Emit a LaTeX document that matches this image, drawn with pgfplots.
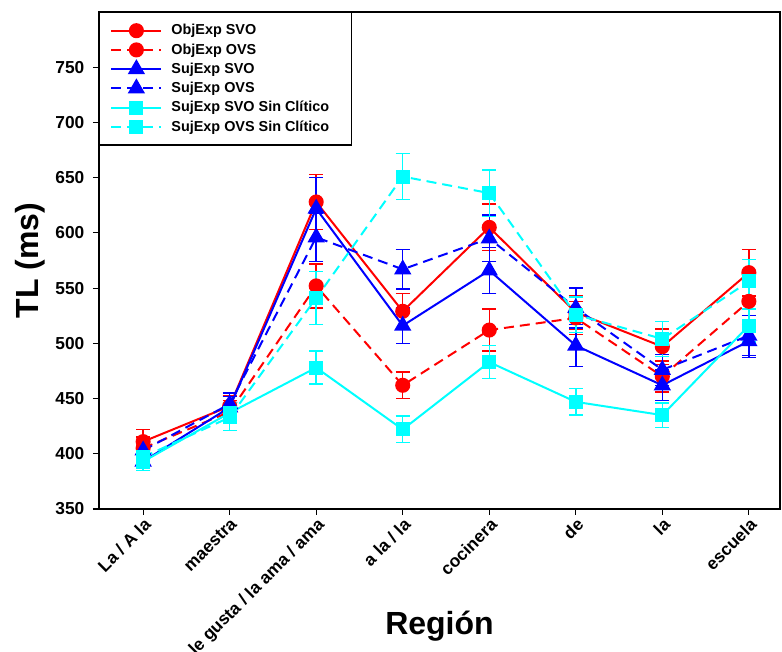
\documentclass[border=0pt]{standalone}
\usepackage{pgfplots}
\pgfplotsset{compat=1.18}
\usepackage{fontspec}
\setmainfont{Liberation Sans}
\definecolor{cy}{RGB}{0,255,255}
\definecolor{rd}{RGB}{255,0,0}
\definecolor{bl}{RGB}{0,0,255}
\pgfplotsset{
  errs/.style={error bars/.cd, y dir=both, y explicit,
    error bar style={line width=1.1pt, solid},
    error mark options={rotate=90, mark size=5.25pt, line width=1.1pt, solid}},
  dsh/.style={dash pattern=on 7.5pt off 4.5pt},
}
\begin{document}
\begin{tikzpicture}
\begin{axis}[
  scale only axis, width=510.75pt, height=372.75pt,
  xmin=0.49, xmax=8.36, ymin=350, ymax=800,
  xtick={1,...,8},
  xticklabels={La / A la, maestra, le gusta / la ama / ama, a la / la, cocinera, de, la, escuela},
  ytick={350,400,...,750},
  tick align=outside, tick pos=left, major tick length=4.5pt,
  axis line style={line width=1.1pt},
  every tick/.style={black, line width=0.9pt},
  /pgf/number format/assume math mode=true,
  ticklabel style={font=\fontsize{13}{15}\selectfont\bfseries},
  y tick label style={xshift=-3pt},
  x tick label style={rotate=45, anchor=north east, inner sep=1pt},
  xlabel={Región}, ylabel={TL (ms)},
  label style={font=\fontsize{24}{28}\selectfont\bfseries},
  xlabel style={at={(axis description cs:0.5,-0.2535)}, anchor=base},
  ylabel style={at={(axis description cs:-0.0881,0.5)}, anchor=base},
  legend image code/.code={\draw[mark repeat=2, mark phase=2, #1] plot coordinates {(0pt,0pt) (18.75pt,0pt) (37.5pt,0pt)};},
  legend style={at={(axis description cs:0,1)}, anchor=north west, draw=black, line width=1.1pt,
    font=\fontsize{10.8}{12.8}\selectfont\bfseries, inner xsep=8pt, inner ysep=6.8pt,
    row sep=1.1pt, column sep=4.8pt},
  legend cell align=left,
]
\addplot[color=rd, line width=1.5pt, solid, mark=*, mark size=4.9pt, mark options={solid}, errs] table[x=x, y=y, y error=e] {
x y e
1 411 11
2 443 10
3 628 25
4 529 16
5 605 21
6 528 15
7 497 16
8 564 21
};
\addlegendentry{ObjExp SVO}
\addplot[color=rd, line width=1.5pt, dsh, mark=*, mark size=4.9pt, mark options={solid}, errs] table[x=x, y=y, y error=e] {
x y e
1 405 10
2 438 10
3 552 20
4 462 12
5 512 19
6 523 15
7 470 14
8 538 18
};
\addlegendentry{ObjExp OVS}
\addplot[color=bl, line width=1.5pt, solid, mark=triangle*, mark size=6pt, mark options={solid}, errs] table[x=x, y=y, y error=e] {
x y e
1 393 8
2 442 10
3 622 28
4 516 16
5 566 21
6 498 19
7 462 14
8 502 15
};
\addlegendentry{SujExp SVO}
\addplot[color=bl, line width=1.5pt, dsh, mark=triangle*, mark size=6pt, mark options={solid}, errs] table[x=x, y=y, y error=e] {
x y e
1 403 10
2 445 10
3 596 22
4 567 18
5 595 21
6 532 18
7 476 14
8 507 18
};
\addlegendentry{SujExp OVS}
\addplot[color=cy, line width=1.5pt, solid, mark=square*, mark size=4.5pt, mark options={solid}, errs] table[x=x, y=y, y error=e] {
x y e
1 393 8
2 437 9
3 478 15
4 422 12
5 483 15
6 447 12
7 435 11
8 516 15
};
\addlegendentry{SujExp SVO Sin Clítico}
\addplot[color=cy, line width=1.5pt, dsh, mark=square*, mark size=4.5pt, mark options={solid}, errs] table[x=x, y=y, y error=e] {
x y e
1 397 8
2 433 12
3 541 24
4 651 21
5 636 21
6 526 16
7 504 16
8 556 20
};
\addlegendentry{SujExp OVS Sin Clítico\hspace*{7pt}}
\end{axis}
\pgfresetboundingbox
\path (current axis.south west) ++(-74.25pt,-107.25pt) rectangle ([xshift=1.5pt,yshift=9pt]current axis.north east);
\end{tikzpicture}
\end{document}
